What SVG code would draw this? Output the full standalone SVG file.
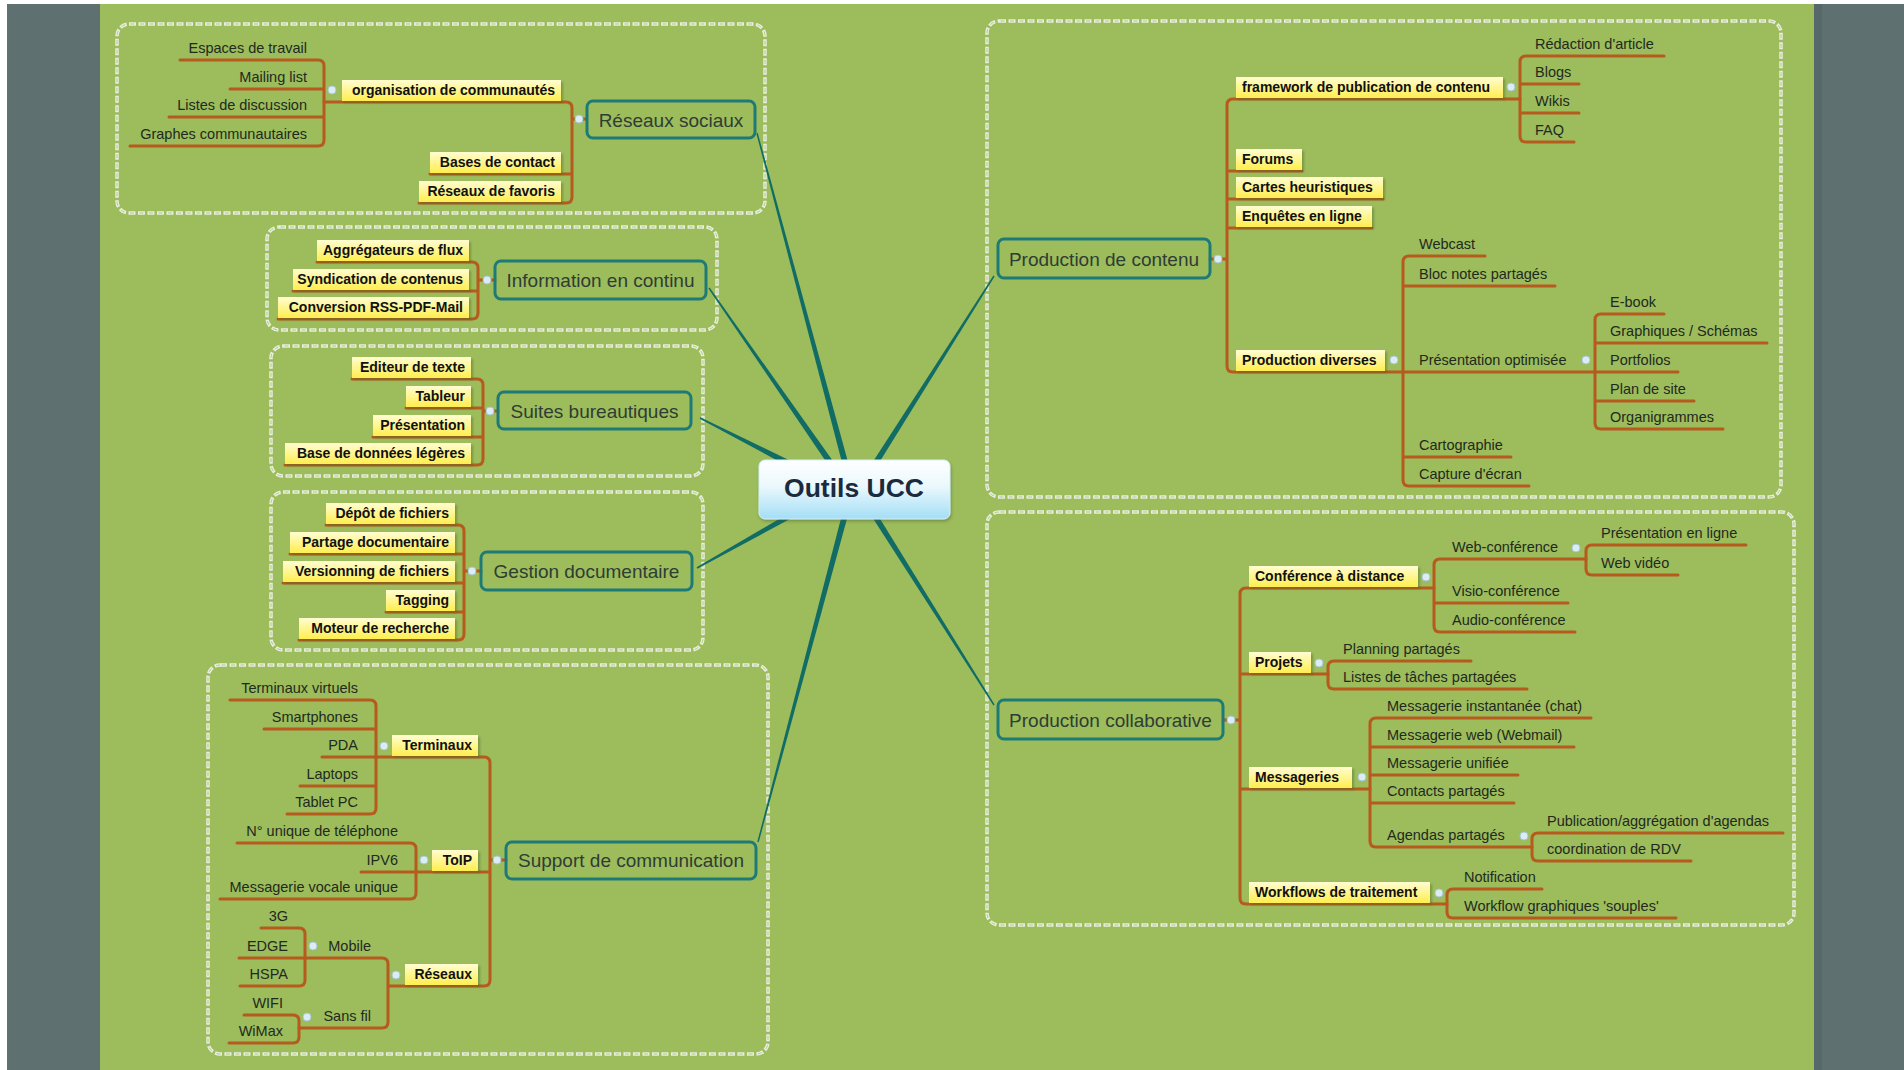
<svg xmlns="http://www.w3.org/2000/svg" width="1904" height="1070" viewBox="0 0 1904 1070">
<style>
.bg{fill:#9dbc5c}
.side{fill:#5f7070}
.bnd{fill:none;stroke:#e8eee0;stroke-width:3.5;stroke-dasharray:7 2.5}
.bndi{fill:none;stroke:#b3ca80;stroke-width:1;stroke-dasharray:4 5.5;stroke-dashoffset:-1.5}
.or{fill:none;stroke:#b65a1e;stroke-width:3;stroke-linecap:round}
.tl{fill:#116c66}
.main rect{fill:none;stroke:#1e7a76;stroke-width:3}
.main text{font-family:"Liberation Sans",Arial,sans-serif;font-size:19px;fill:#2e3d35;text-anchor:middle}
.lab rect{fill:url(#yg);filter:url(#sh)}
.lab text{font-family:"Liberation Sans",Arial,sans-serif;font-size:14px;font-weight:bold;fill:#111}
.l text{text-anchor:end}
.pl{font-family:"Liberation Sans",Arial,sans-serif;font-size:14.5px;fill:#1f2a1c}
.pe{text-anchor:end}
.dot{fill:#dcecf4;stroke:#a6c7d6;stroke-width:1}
</style>
<defs>
<linearGradient id="yg" x1="0" y1="0" x2="0" y2="1"><stop offset="0" stop-color="#fffdd2"/><stop offset="1" stop-color="#ffee4e"/></linearGradient>
<linearGradient id="cg" x1="0" y1="0" x2="0" y2="1"><stop offset="0" stop-color="#ffffff"/><stop offset="0.45" stop-color="#eaf8fd"/><stop offset="1" stop-color="#a3def6"/></linearGradient>
<filter id="sh" x="-10%" y="-20%" width="120%" height="160%"><feDropShadow dx="2" dy="2" stdDeviation="1" flood-color="#4d6b25" flood-opacity="0.45"/></filter>
<filter id="csh" x="-10%" y="-20%" width="120%" height="150%"><feDropShadow dx="1" dy="2" stdDeviation="1.5" flood-color="#3d5a20" flood-opacity="0.4"/></filter>
</defs>
<rect x="0" y="0" width="1904" height="1070" fill="#ffffff"/>
<rect class="side" x="7" y="4" width="93" height="1066"/>
<rect class="bg" x="100" y="4" width="1714" height="1066"/>
<rect class="side" x="1814" y="4" width="90" height="1066"/>
<rect x="1814" y="4" width="8" height="1066" fill="#56686a"/>

<g id="boundaries">
<rect class="bnd" x="117" y="24" width="648" height="189" rx="12"/>
<rect class="bnd" x="267" y="227" width="450" height="103" rx="12"/>
<rect class="bnd" x="271" y="346" width="432" height="130" rx="12"/>
<rect class="bnd" x="271" y="492" width="432" height="158" rx="12"/>
<rect class="bnd" x="208" y="665" width="560" height="389" rx="12"/>
<rect class="bnd" x="987" y="21" width="794" height="476" rx="12"/>
<rect class="bnd" x="987" y="512" width="807" height="413" rx="12"/>
<rect class="bndi" x="117" y="24" width="648" height="189" rx="12"/>
<rect class="bndi" x="267" y="227" width="450" height="103" rx="12"/>
<rect class="bndi" x="271" y="346" width="432" height="130" rx="12"/>
<rect class="bndi" x="271" y="492" width="432" height="158" rx="12"/>
<rect class="bndi" x="208" y="665" width="560" height="389" rx="12"/>
<rect class="bndi" x="987" y="21" width="794" height="476" rx="12"/>
<rect class="bndi" x="987" y="512" width="807" height="413" rx="12"/>
</g>

<g id="connectors">
<polygon class="tl" points="756.3,133.2 843.1,466.8 848.9,465.2 757.7,132.8"/>
<polygon class="tl" points="708.4,288.4 829.5,466.7 834.5,463.3 709.6,287.6"/>
<polygon class="tl" points="699.7,418.7 790.6,467.7 793.4,462.3 700.3,417.3"/>
<polygon class="tl" points="697.4,568.7 796.4,515.6 793.6,510.4 696.6,567.3"/>
<polygon class="tl" points="758.7,842.2 848.9,511.8 843.1,510.2 757.3,841.8"/>
<polygon class="tl" points="993.4,275.6 870.5,465.4 875.5,468.6 994.6,276.4"/>
<polygon class="tl" points="994.6,704.6 875.5,511.4 870.5,514.6 993.4,705.4"/>
<path class="or" d="M324,102 H566 Q572,102 572,108 V197 Q572,203 566,203 H419 M430,174 H572 M572,119 H586"/>
<path class="or" d="M180,60 H318 Q324,60 324,66 V140 Q324,146 318,146 H130 M230,89 H324 M169,117 H324"/>
<path class="or" d="M317,262 H472 Q478,262 478,268 V313 Q478,319 472,319 H278 M293,291 H478 M478,280 H495"/>
<path class="or" d="M352,379 H477 Q483,379 483,385 V459 Q483,465 477,465 H285 M406,408 H483 M373,437 H483 M483,411 H498"/>
<path class="or" d="M326,525 H458 Q464,525 464,531 V634 Q464,640 458,640 H299 M290,554 H464 M283,583 H464 M386,612 H464 M464,571 H481"/>
<path class="or" d="M376,757 H484 Q490,757 490,763 V980 Q490,986 484,986 H389 M416,872 H490 M490,860 H506"/>
<path class="or" d="M230,700 H370 Q376,700 376,706 V808 Q376,814 370,814 H287 M264,729 H376 M322,757 H376 M300,786 H376"/>
<path class="or" d="M237,843 H410 Q416,843 416,849 V893 Q416,899 410,899 H220 M361,872 H416"/>
<path class="or" d="M305,958 H382 Q388,958 388,964 V1022 Q388,1028 382,1028 H299"/>
<path class="or" d="M261,928 H299 Q305,928 305,934 V980 Q305,986 299,986 H240 M239,958 H305"/>
<path class="or" d="M244,1015 H293 Q299,1015 299,1021 V1037 Q299,1043 293,1043 H229"/>
<path class="or" d="M1520,99 H1233 Q1227,99 1227,105 V366 Q1227,372 1233,372 H1403 M1302,171 H1227 M1383,199 H1227 M1372,228 H1227 M1210,259 H1227"/>
<path class="or" d="M1664,56 H1526 Q1520,56 1520,62 V136 Q1520,142 1526,142 H1574 M1579,84 H1520 M1579,113 H1520"/>
<path class="or" d="M1485,256 H1409 Q1403,256 1403,262 V480 Q1403,486 1409,486 H1529 M1555,286 H1403 M1595,372 H1403 M1511,457 H1403"/>
<path class="or" d="M1664,314 H1601 Q1595,314 1595,320 V423 Q1595,429 1601,429 H1723 M1767,343 H1595 M1678,372 H1595 M1694,401 H1595"/>
<path class="or" d="M1434,588 H1246 Q1240,588 1240,594 V898 Q1240,904 1246,904 H1447 M1328,674 H1240 M1370,789 H1240 M1223,720 H1240"/>
<path class="or" d="M1586,559 H1440 Q1434,559 1434,565 V626 Q1434,632 1440,632 H1575 M1568,603 H1434"/>
<path class="or" d="M1746,545 H1592 Q1586,545 1586,551 V569 Q1586,575 1592,575 H1678"/>
<path class="or" d="M1471,661 H1334 Q1328,661 1328,667 V683 Q1328,689 1334,689 H1527"/>
<path class="or" d="M1591,718 H1376 Q1370,718 1370,724 V841 Q1370,847 1376,847 H1532 M1574,747 H1370 M1518,775 H1370 M1514,803 H1370"/>
<path class="or" d="M1783,833 H1538 Q1532,833 1532,839 V855 Q1532,861 1538,861 H1691"/>
<path class="or" d="M1542,889 H1453 Q1447,889 1447,895 V912 Q1447,918 1453,918 H1676"/>
</g>

<g id="n-center">
<rect x="759" y="460" width="191" height="59" rx="6" fill="url(#cg)" stroke="#d4eef8" stroke-width="1" filter="url(#csh)"/>
<text x="854" y="497" font-family="'Liberation Sans',Arial,sans-serif" font-size="26.5" font-weight="bold" fill="#1b2b3d" text-anchor="middle">Outils UCC</text>
</g>

<g id="n-reseaux-sociaux" class="main"><rect x="587" y="101" width="168" height="37" rx="6"/><text x="671" y="126.5">Réseaux sociaux</text><circle class="dot" cx="579" cy="119" r="4"/></g>
<g id="n-information" class="main"><rect x="495" y="261" width="211" height="38" rx="6"/><text x="600.5" y="287">Information en continu</text><circle class="dot" cx="487" cy="280" r="4"/></g>
<g id="n-suites" class="main"><rect x="498" y="392" width="193" height="37" rx="6"/><text x="594.5" y="417.5">Suites bureautiques</text><circle class="dot" cx="490" cy="411" r="4"/></g>
<g id="n-gestion" class="main"><rect x="481" y="552" width="211" height="38" rx="6"/><text x="586.5" y="578">Gestion documentaire</text><circle class="dot" cx="472" cy="571" r="4"/></g>
<g id="n-support" class="main"><rect x="506" y="842" width="250" height="37" rx="6"/><text x="631" y="867">Support de communication</text><circle class="dot" cx="497" cy="860" r="4"/></g>
<g id="n-prod-contenu" class="main"><rect x="998" y="239" width="212" height="39" rx="6"/><text x="1104" y="265.5">Production de contenu</text><circle class="dot" cx="1218" cy="259" r="4"/></g>
<g id="n-prod-collab" class="main"><rect x="998" y="700" width="225" height="39" rx="6"/><text x="1110.5" y="726.5">Production collaborative</text><circle class="dot" cx="1231" cy="720" r="4"/></g>

<g id="n-organisation" class="lab l"><rect x="342" y="80" width="219" height="21"/><text x="555" y="95">organisation de communautés</text><circle class="dot" cx="332" cy="90" r="4"/></g>
<g id="n-bases" class="lab l"><rect x="430" y="152" width="131" height="21"/><text x="555" y="167">Bases de contact</text></g>
<g id="n-favoris" class="lab l"><rect x="419" y="181" width="142" height="21"/><text x="555" y="196">Réseaux de favoris</text></g>
<g id="n-aggreg" class="lab l"><rect x="317" y="240" width="152" height="21"/><text x="463" y="255">Aggrégateurs de flux</text></g>
<g id="n-syndic" class="lab l"><rect x="293" y="269" width="176" height="21"/><text x="463" y="284">Syndication de contenus</text></g>
<g id="n-conversion" class="lab l"><rect x="278" y="297" width="191" height="21"/><text x="463" y="312">Conversion RSS-PDF-Mail</text></g>
<g id="n-editeur" class="lab l"><rect x="352" y="357" width="119" height="21"/><text x="465" y="372">Editeur de texte</text></g>
<g id="n-tableur" class="lab l"><rect x="406" y="386" width="65" height="21"/><text x="465" y="401">Tableur</text></g>
<g id="n-presentation" class="lab l"><rect x="373" y="415" width="98" height="21"/><text x="465" y="430">Présentation</text></g>
<g id="n-basedonnees" class="lab l"><rect x="285" y="443" width="186" height="21"/><text x="465" y="458">Base de données légères</text></g>
<g id="n-depot" class="lab l"><rect x="326" y="503" width="129" height="21"/><text x="449" y="518">Dépôt de fichiers</text></g>
<g id="n-partage" class="lab l"><rect x="290" y="532" width="165" height="21"/><text x="449" y="547">Partage documentaire</text></g>
<g id="n-versionning" class="lab l"><rect x="283" y="561" width="172" height="21"/><text x="449" y="576">Versionning de fichiers</text></g>
<g id="n-tagging" class="lab l"><rect x="386" y="590" width="69" height="21"/><text x="449" y="605">Tagging</text></g>
<g id="n-moteur" class="lab l"><rect x="299" y="618" width="156" height="21"/><text x="449" y="633">Moteur de recherche</text></g>
<g id="n-terminaux" class="lab l"><rect x="392" y="735" width="86" height="21"/><text x="472" y="750">Terminaux</text><circle class="dot" cx="384" cy="746" r="4"/></g>
<g id="n-toip" class="lab l"><rect x="432" y="850" width="46" height="21"/><text x="472" y="865">ToIP</text><circle class="dot" cx="424" cy="860" r="4"/></g>
<g id="n-reseaux" class="lab l"><rect x="405" y="964" width="73" height="21"/><text x="472" y="979">Réseaux</text><circle class="dot" cx="396" cy="975" r="4"/></g>

<g id="n-framework" class="lab"><rect x="1236" y="77" width="267" height="21"/><text x="1242" y="92">framework de publication de contenu</text><circle class="dot" cx="1511" cy="87" r="4"/></g>
<g id="n-forums" class="lab"><rect x="1236" y="149" width="66" height="21"/><text x="1242" y="164">Forums</text></g>
<g id="n-cartes" class="lab"><rect x="1236" y="177" width="147" height="21"/><text x="1242" y="192">Cartes heuristiques</text></g>
<g id="n-enquetes" class="lab"><rect x="1236" y="206" width="136" height="21"/><text x="1242" y="221">Enquêtes en ligne</text></g>
<g id="n-diverses" class="lab"><rect x="1236" y="350" width="149" height="21"/><text x="1242" y="365">Production diverses</text><circle class="dot" cx="1394" cy="360" r="4"/></g>
<g id="n-conference" class="lab"><rect x="1249" y="566" width="169" height="21"/><text x="1255" y="581">Conférence à distance</text><circle class="dot" cx="1426" cy="577" r="4"/></g>
<g id="n-projets" class="lab"><rect x="1249" y="652" width="62" height="21"/><text x="1255" y="667">Projets</text><circle class="dot" cx="1319" cy="663" r="4"/></g>
<g id="n-messageries" class="lab"><rect x="1249" y="767" width="103" height="21"/><text x="1255" y="782">Messageries</text><circle class="dot" cx="1362" cy="777" r="4"/></g>
<g id="n-workflows" class="lab"><rect x="1249" y="882" width="181" height="21"/><text x="1255" y="897">Workflows de traitement</text><circle class="dot" cx="1439" cy="893" r="4"/></g>

<g id="n-espaces"><text class="pl pe" x="307" y="53">Espaces de travail</text></g>
<g id="n-mailing"><text class="pl pe" x="307" y="82">Mailing list</text></g>
<g id="n-listes"><text class="pl pe" x="307" y="110">Listes de discussion</text></g>
<g id="n-graphes"><text class="pl pe" x="307" y="139">Graphes communautaires</text></g>
<g id="n-tvirtuels"><text class="pl pe" x="358" y="693">Terminaux virtuels</text></g>
<g id="n-smartphones"><text class="pl pe" x="358" y="722">Smartphones</text></g>
<g id="n-pda"><text class="pl pe" x="358" y="750">PDA</text></g>
<g id="n-laptops"><text class="pl pe" x="358" y="779">Laptops</text></g>
<g id="n-tablet"><text class="pl pe" x="358" y="807">Tablet PC</text></g>
<g id="n-numero"><text class="pl pe" x="398" y="836">N° unique de téléphone</text></g>
<g id="n-ipv6"><text class="pl pe" x="398" y="865">IPV6</text></g>
<g id="n-vocale"><text class="pl pe" x="398" y="892">Messagerie vocale unique</text></g>
<g id="n-mobile"><text class="pl pe" x="371" y="951">Mobile</text><circle class="dot" cx="313" cy="946" r="4"/></g>
<g id="n-sansfil"><text class="pl pe" x="371" y="1021">Sans fil</text><circle class="dot" cx="307" cy="1017" r="4"/></g>
<g id="n-3g"><text class="pl pe" x="288" y="921">3G</text></g>
<g id="n-edge"><text class="pl pe" x="288" y="951">EDGE</text></g>
<g id="n-hspa"><text class="pl pe" x="288" y="979">HSPA</text></g>
<g id="n-wifi"><text class="pl pe" x="283" y="1008">WIFI</text></g>
<g id="n-wimax"><text class="pl pe" x="283" y="1036">WiMax</text></g>

<g id="n-redaction"><text class="pl" x="1535" y="49">Rédaction d'article</text></g>
<g id="n-blogs"><text class="pl" x="1535" y="77">Blogs</text></g>
<g id="n-wikis"><text class="pl" x="1535" y="106">Wikis</text></g>
<g id="n-faq"><text class="pl" x="1535" y="135">FAQ</text></g>
<g id="n-webcast"><text class="pl" x="1419" y="249">Webcast</text></g>
<g id="n-bloc"><text class="pl" x="1419" y="279">Bloc notes partagés</text></g>
<g id="n-presopt"><text class="pl" x="1419" y="365">Présentation optimisée</text><circle class="dot" cx="1586" cy="360" r="4"/></g>
<g id="n-carto"><text class="pl" x="1419" y="450">Cartographie</text></g>
<g id="n-capture"><text class="pl" x="1419" y="479">Capture d'écran</text></g>
<g id="n-ebook"><text class="pl" x="1610" y="307">E-book</text></g>
<g id="n-graphiques"><text class="pl" x="1610" y="336">Graphiques / Schémas</text></g>
<g id="n-portfolios"><text class="pl" x="1610" y="365">Portfolios</text></g>
<g id="n-plan"><text class="pl" x="1610" y="394">Plan de site</text></g>
<g id="n-organi"><text class="pl" x="1610" y="422">Organigrammes</text></g>
<g id="n-webconf"><text class="pl" x="1452" y="552">Web-conférence</text><circle class="dot" cx="1576" cy="548" r="4"/></g>
<g id="n-visio"><text class="pl" x="1452" y="596">Visio-conférence</text></g>
<g id="n-audio"><text class="pl" x="1452" y="625">Audio-conférence</text></g>
<g id="n-presligne"><text class="pl" x="1601" y="538">Présentation en ligne</text></g>
<g id="n-webvideo"><text class="pl" x="1601" y="568">Web vidéo</text></g>
<g id="n-planning"><text class="pl" x="1343" y="654">Planning partagés</text></g>
<g id="n-taches"><text class="pl" x="1343" y="682">Listes de tâches partagées</text></g>
<g id="n-chat"><text class="pl" x="1387" y="711">Messagerie instantanée (chat)</text></g>
<g id="n-webmail"><text class="pl" x="1387" y="740">Messagerie web (Webmail)</text></g>
<g id="n-unifiee"><text class="pl" x="1387" y="768">Messagerie unifiée</text></g>
<g id="n-contacts"><text class="pl" x="1387" y="796">Contacts partagés</text></g>
<g id="n-agendas"><text class="pl" x="1387" y="840">Agendas partagés</text><circle class="dot" cx="1524" cy="836" r="4"/></g>
<g id="n-publication"><text class="pl" x="1547" y="826">Publication/aggrégation d'agendas</text></g>
<g id="n-rdv"><text class="pl" x="1547" y="854">coordination de RDV</text></g>
<g id="n-notification"><text class="pl" x="1464" y="882">Notification</text></g>
<g id="n-souples"><text class="pl" x="1464" y="911">Workflow graphiques 'souples'</text></g>
</svg>
